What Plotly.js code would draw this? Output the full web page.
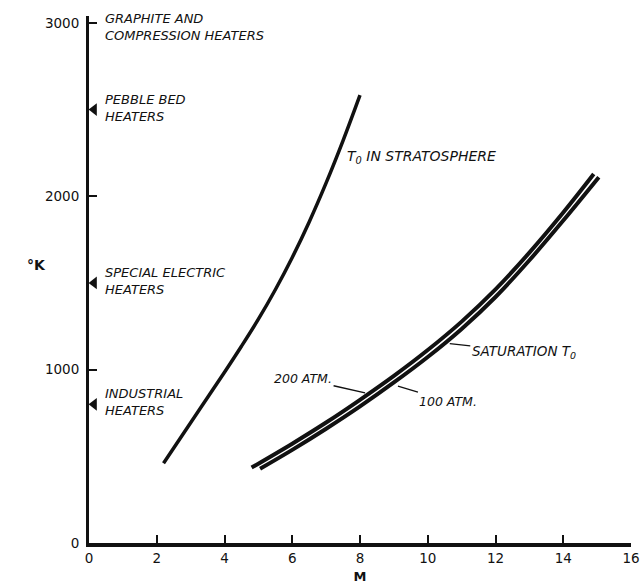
<!DOCTYPE html>
<html>
<head>
<meta charset="utf-8">
<script src="https://cdn.plot.ly/plotly-3.0.1.min.js"></script>
<style>html,body{margin:0;padding:0;background:#fff;}#chart{width:642px;height:586px;}</style>
</head>
<body>
<div id="chart"></div>
<script>
// Stagnation temperature in stratosphere
const stratoM = [2.2, 3, 3.5, 4, 4.5, 5, 5.5, 6, 6.5, 7, 7.5, 8];
const stratoT = [460, 694, 839, 985, 1135, 1291, 1461, 1647, 1852, 2077, 2321, 2583];
// Saturation T0, 200 atm
const sat200M = [4.8, 6, 7, 8, 9, 10, 11, 12, 13, 14, 14.9];
const sat200T = [435, 573, 695, 826, 964, 1113, 1277, 1463, 1675, 1906, 2128];
// Saturation T0, 100 atm
const sat100M = [5.05, 6, 7, 8, 9, 10, 11, 12, 13, 14, 15.05];
const sat100T = [428, 537, 659, 788, 926, 1073, 1235, 1419, 1631, 1860, 2110];
// Heater capability levels on the temperature axis
const heaterLabels = ["GRAPHITE AND<br>COMPRESSION HEATERS", "PEBBLE BED<br>HEATERS", "SPECIAL ELECTRIC<br>HEATERS", "INDUSTRIAL<br>HEATERS"];
const heaterTemps = [3000, 2500, 1500, 800];
const heaterArrow = [false, true, true, true];
const xTicks = [0, 2, 4, 6, 8, 10, 12, 14, 16];
const yTicks = [0, 1000, 2000, 3000];

const ink = '#111';
const FAM = 'DejaVu Sans, sans-serif';
const arrowT = heaterTemps.filter((t, i) => heaterArrow[i]);

const traces = [
  {x: stratoM, y: stratoT, mode: 'lines', line: {color: ink, width: 3.5, shape: 'spline', smoothing: 1}, hoverinfo: 'skip'},
  {x: sat200M, y: sat200T, mode: 'lines', line: {color: ink, width: 4, shape: 'spline', smoothing: 1}, hoverinfo: 'skip'},
  {x: sat100M, y: sat100T, mode: 'lines', line: {color: ink, width: 4, shape: 'spline', smoothing: 1}, hoverinfo: 'skip'},
  {x: arrowT.map(() => 0.15), y: arrowT, mode: 'markers', cliponaxis: false,
   marker: {symbol: 'triangle-left', size: 11, color: ink}, hoverinfo: 'skip'}
];

const labFont = {family: FAM, size: 13, color: ink};
const ann = [];
heaterLabels.forEach((txt, i) => {
  ann.push({x: 0.42, y: heaterTemps[i], xref: 'x', yref: 'y', xanchor: 'left', yanchor: 'middle',
    text: '<i>' + txt.split('<br>').join('</i><br><i>') + '</i>', showarrow: false, font: labFont,
    align: 'left', yshift: i === 0 ? -4 : 2});
});
ann.push({x: 7.55, y: 2225, xref: 'x', yref: 'y', xanchor: 'left', yanchor: 'middle',
  text: '<i>T<sub>0</sub> IN STRATOSPHERE</i>', showarrow: false, font: {family: FAM, size: 14, color: ink}});
const leader = {showarrow: true, arrowhead: 0, arrowwidth: 1.3, arrowcolor: ink, standoff: 0};
ann.push(Object.assign({x: 8.15, y: 866, xref: 'x', yref: 'y', ax: -62, ay: -14,
  text: '<i>200 ATM.</i>', font: {family: FAM, size: 12.5, color: ink}}, leader));
ann.push(Object.assign({x: 9.12, y: 905, xref: 'x', yref: 'y', ax: 50, ay: 15,
  text: '<i>100 ATM.</i>', font: {family: FAM, size: 12.5, color: ink}}, leader));
ann.push(Object.assign({x: 10.65, y: 1150, xref: 'x', yref: 'y', ax: 74, ay: 8,
  text: '<i>SATURATION T<sub>0</sub></i>', font: {family: FAM, size: 13.5, color: ink}}, leader));

const L = 89, R = 11, T = 16, B = 43, W = 642, H = 586;
ann.push({x: (25 - L) / (W - L - R), y: (H - B - 265) / (H - T - B), xref: 'paper', yref: 'paper',
  text: '<b>°K</b>', showarrow: false, font: {family: FAM, size: 14, color: ink}});

const layout = {
  width: W, height: H,
  margin: {l: L, r: R, t: T, b: B},
  paper_bgcolor: '#fff', plot_bgcolor: '#fff',
  showlegend: false,
  font: {family: FAM, color: ink, size: 13},
  xaxis: {range: [0, 16], tickvals: xTicks, ticktext: xTicks.map(String),
    showgrid: false, zeroline: false, showline: true, linecolor: ink, linewidth: 3.5,
    ticks: 'inside', ticklen: 8, tickwidth: 2, tickcolor: ink,
    tickfont: {family: FAM, size: 13.5, color: ink},
    title: {text: '<b>M</b>', font: {family: FAM, size: 13, color: ink}, standoff: 8}},
  yaxis: {range: [0, 3040], tickvals: yTicks, ticktext: yTicks.map(String),
    showgrid: false, zeroline: false, showline: true, linecolor: ink, linewidth: 3,
    ticks: 'inside', ticklen: 8, tickwidth: 2, tickcolor: ink, ticklabelstandoff: 4,
    tickfont: {family: FAM, size: 13.5, color: ink}},
  annotations: ann
};
Plotly.newPlot('chart', traces, layout, {displayModeBar: false, staticPlot: true});
</script>
</body>
</html>
